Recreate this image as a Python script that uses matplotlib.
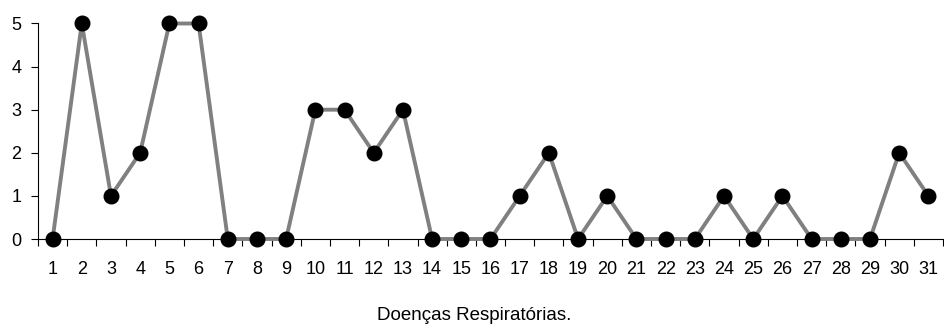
import numpy as np
import matplotlib
matplotlib.use("Agg")
import matplotlib.pyplot as plt

dias = list(range(1, 32))
casos = [0, 5, 1, 2, 5, 5, 0, 0, 0, 3, 3, 2, 3, 0, 0, 0, 1, 2, 0, 1,
         0, 0, 0, 1, 0, 1, 0, 0, 0, 2, 1]
titulo_x = "Doenças Respiratórias."

plt.rcParams['font.family'] = ['Liberation Sans', 'DejaVu Sans']

fig = plt.figure(figsize=(9.45, 3.25), dpi=100)
ax = fig.add_axes([38 / 945, (325 - 239) / 325, (943 - 38) / 945, (239 - 23.5) / 325])

ax.plot(dias, casos, color='#808080', linewidth=2.8, marker='o',
        markersize=10.5, markerfacecolor='black', markeredgecolor='black',
        clip_on=False, zorder=3)

ax.set_xlim(0.5, 31.5)
ax.set_ylim(0, 5)
ax.set_yticks(range(0, 6))
ax.set_xticks(dias)
ax.set_xticks(np.arange(0.5, 32, 1), minor=True)
ax.tick_params(axis='x', which='major', length=0, pad=16, labelsize=13)
ax.tick_params(axis='x', which='minor', length=5, width=0.8, direction='out')
ax.tick_params(axis='y', length=5, width=0.8, pad=7, labelsize=13)

for s in ['top', 'right']:
    ax.spines[s].set_visible(False)
for s in ['left', 'bottom']:
    ax.spines[s].set_linewidth(0.8)

# rotulo do eixo x posto a mao, como no original
fig.text(474 / 945, 1 - 316 / 325, titulo_x, fontsize=13.5, ha='center', va='center')

fig.savefig("out.png", dpi=100)
